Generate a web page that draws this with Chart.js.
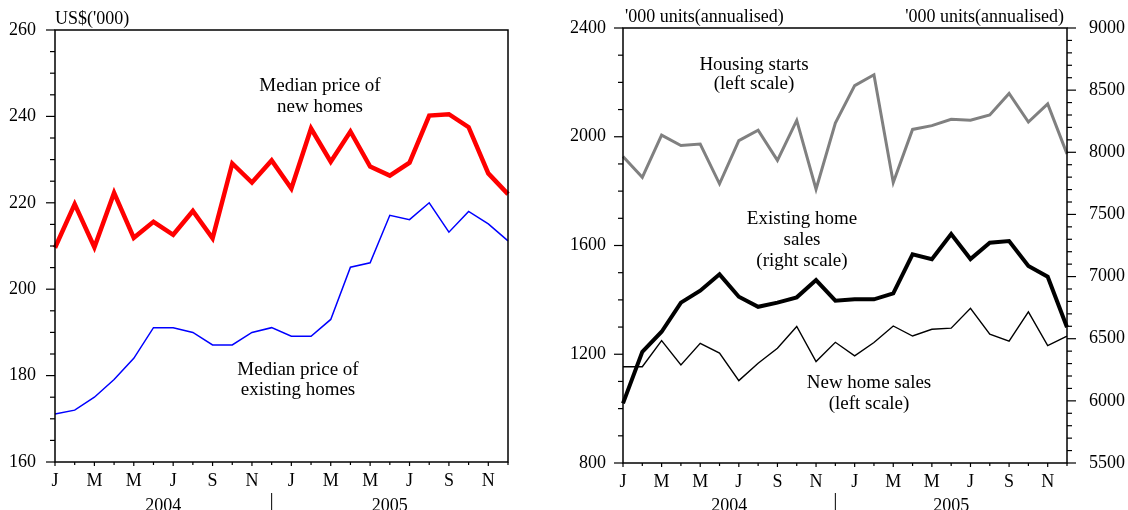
<!DOCTYPE html>
<html><head><meta charset="utf-8">
<script src="https://cdn.jsdelivr.net/npm/chart.js@4.4.1/dist/chart.umd.min.js"></script>
<style>
html,body{margin:0;padding:0;background:#fff;}
#wrap{position:relative;width:1128px;height:510px;overflow:hidden;}
canvas{position:absolute;top:0;}
#c1{left:0;} #c2{left:570px;}
</style></head><body>
<div id="wrap"><canvas id="c1" width="560" height="510"></canvas><canvas id="c2" width="558" height="510"></canvas></div>
<script>
const months = ['J','F','M','A','M','J','J','A','S','O','N','D','J','F','M','A','M','J','J','A','S','O','N','D'];
const years = ['2004','2005'];
const newPrice = [209.6,219.7,209.7,222.3,211.9,215.6,212.6,218.1,211.8,229.1,224.7,229.8,223.3,237.2,229.5,236.5,228.4,226.3,229.3,240.2,240.5,237.5,226.8,222.0];
const existingPrice = [171.1,172.0,175.0,179.1,184.0,191.1,191.1,190.0,187.1,187.1,190.0,191.1,189.1,189.1,193.0,205.1,206.1,217.1,216.1,220.0,213.2,218.0,215.1,211.2];
const housingStarts = [1927,1851,2006,1968,1973,1827,1986,2024,1913,2060,1807,2050,2188,2228,1832,2027,2041,2064,2061,2080,2159,2054,2121,1937];
const newSales = [1154,1154,1250,1161,1240,1204,1103,1167,1222,1302,1173,1244,1194,1243,1304,1267,1292,1296,1369,1274,1248,1356,1232,1267];
const existingSales = [5980,6395,6556,6790,6886,7018,6838,6757,6790,6833,6972,6806,6817,6817,6865,7179,7139,7342,7141,7272,7286,7085,6999,6592];
const leftTicks = [160,180,200,220,240,260];
const rightLeftTicks = [800,1200,1600,2000,2400];
const rightRightTicks = [5500,6000,6500,7000,7500,8000,8500,9000];

const FONT = '"Liberation Serif","DejaVu Serif",serif';
const TICKFONT = {family: FONT, size: 18};

function setTicks(arr){ return function(scale){ scale.ticks = arr.map(v=>({value:v})); }; }
const plain = (v)=>String(v);

function decor(opts){
  return {
    id:'decor'+opts.key,
    afterDraw(chart){
      const ctx = chart.ctx, a = chart.chartArea;
      ctx.save();
      ctx.strokeStyle = '#000';
      ctx.lineWidth = 1.5;
      ctx.strokeRect(a.left, a.top, a.right-a.left, a.bottom-a.top);
      ctx.lineWidth = 1.2;
      opts.yTicks.forEach(t=>{
        const sc = chart.scales[t.id];
        for(let v=sc.min; v<=sc.max+1e-9; v+=t.minor){
          const y = sc.getPixelForValue(v);
          const major = Math.abs(((v - sc.min) % t.major)) < 1e-6;
          const len = major ? 9 : 5;
          ctx.beginPath();
          if(t.side==='left'){ ctx.moveTo(a.left, y); ctx.lineTo(a.left-len, y); }
          else { ctx.moveTo(a.right, y); ctx.lineTo(a.right+len, y); }
          ctx.stroke();
        }
      });
      const xs = chart.scales.x;
      for(let i=0;i<months.length;i++){
        const x = xs.getPixelForValue(i);
        const len = i%2===0 ? 4 : 3;
        ctx.beginPath(); ctx.moveTo(x, a.bottom); ctx.lineTo(x, a.bottom+len); ctx.stroke();
      }
      const sep = xs.getPixelForValue(11);
      ctx.fillStyle = '#000';
      ctx.font = '18px '+FONT;
      ctx.textAlign = 'center';
      ctx.textBaseline = 'alphabetic';
      ctx.fillText(years[0], (a.left+sep)/2, 511);
      ctx.fillText(years[1], (sep+a.right)/2, 511);
      ctx.lineWidth = 1;
      ctx.beginPath(); ctx.moveTo(sep, 493); ctx.lineTo(sep, 510); ctx.stroke();
      opts.titles.forEach(t=>{
        ctx.textAlign = t.align;
        ctx.fillText(t.text, t.x, t.y);
      });
      ctx.font = '19px '+FONT;
      ctx.textBaseline = 'middle';
      ctx.textAlign = 'center';
      opts.notes.forEach(n=>{ n.lines.forEach((l,i)=>ctx.fillText(l, n.x, n.y + i*n.dy)); });
      ctx.restore();
    }
  };
}

const xScale = (h)=>({
  type:'category',
  grid:{display:false},
  border:{display:false},
  ticks:{font:TICKFONT, color:'#000', autoSkip:false, maxRotation:0, padding:0,
    callback:function(v,i){ return i%2===0 ? months[i] : ''; }},
  afterFit:(s)=>{ s.height = h; }
});

new Chart(document.getElementById('c1'), {
  type:'line',
  data:{labels:months, datasets:[
    {data:newPrice, borderColor:'#ff0000', borderWidth:4.5, pointRadius:0, tension:0},
    {data:existingPrice, borderColor:'#0000ff', borderWidth:1.5, pointRadius:0, tension:0}
  ]},
  options:{
    responsive:false, animation:false,
    layout:{padding:{top:30,right:52,left:0,bottom:0}},
    plugins:{legend:{display:false}, tooltip:{enabled:false}},
    scales:{
      x: xScale(48),
      y:{min:160,max:260, grid:{display:false}, border:{display:false},
        afterBuildTicks:setTicks(leftTicks),
        ticks:{font:TICKFONT,color:'#000',padding:11,callback:plain},
        afterFit:(s)=>{ s.width = 55; }}
    }
  },
  plugins:[decor({key:1,
    yTicks:[{id:'y',side:'left',minor:5,major:20}],
    titles:[{text:"US$('000)", x:55, y:24, align:'left'}],
    notes:[{lines:['Median price of','new homes'], x:320, y:86, dy:21},
           {lines:['Median price of','existing homes'], x:298, y:370, dy:20}]
  })]
});

new Chart(document.getElementById('c2'), {
  type:'line',
  data:{labels:months, datasets:[
    {data:housingStarts, yAxisID:'y', borderColor:'#808080', borderWidth:3, pointRadius:0, tension:0},
    {data:newSales, yAxisID:'y', borderColor:'#000', borderWidth:1.4, pointRadius:0, tension:0},
    {data:existingSales, yAxisID:'y2', borderColor:'#000', borderWidth:4, pointRadius:0, tension:0}
  ]},
  options:{
    responsive:false, animation:false,
    layout:{padding:{top:28,right:0,left:0,bottom:0}},
    plugins:{legend:{display:false}, tooltip:{enabled:false}},
    scales:{
      x: xScale(47),
      y:{position:'left', min:800,max:2400, grid:{display:false}, border:{display:false},
        afterBuildTicks:setTicks(rightLeftTicks),
        ticks:{font:TICKFONT,color:'#000',padding:9,callback:plain},
        afterFit:(s)=>{ s.width = 53; }},
      y2:{position:'right', min:5500,max:9000, grid:{display:false}, border:{display:false},
        afterBuildTicks:setTicks(rightRightTicks),
        ticks:{font:TICKFONT,color:'#000',padding:14,callback:plain},
        afterFit:(s)=>{ s.width = 61; }}
    }
  },
  plugins:[decor({key:2,
    yTicks:[{id:'y',side:'left',minor:100,major:400},{id:'y2',side:'right',minor:100,major:500}],
    titles:[{text:"'000 units(annualised)", x:55, y:22, align:'left'},
            {text:"'000 units(annualised)", x:494, y:22, align:'right'}],
    notes:[{lines:['Housing starts','(left scale)'], x:184, y:65, dy:19},
           {lines:['Existing home','sales','(right scale)'], x:232, y:219, dy:21},
           {lines:['New home sales','(left scale)'], x:299, y:383, dy:21}]
  })]
});
</script>
</body></html>
